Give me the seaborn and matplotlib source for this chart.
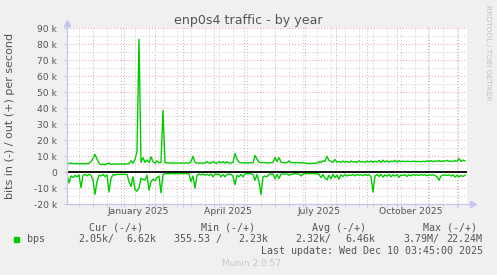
import numpy as np
import pandas as pd
import matplotlib
matplotlib.use("Agg")
import matplotlib.pyplot as plt
import matplotlib.dates as mdates
import seaborn as sns
from matplotlib.patches import Rectangle
from matplotlib.lines import Line2D
from matplotlib.transforms import blended_transform_factory

# ---------------- data ----------------
title = "enp0s4 traffic - by year"
y_label = "bits in (-) / out (+) per second"
series_name = "bps"
period_start = "2024-11-05 03:45"
period_end = "2025-12-10 03:45"

# out (+) traffic, k bits/s, one value per 2 days
out_k = [5.3, 5.3, 5.6, 5.3, 5.2, 5.3, 5.2, 5.2, 5.3, 5.2,
         5.2, 5.4, 6.5, 8.5, 11.0, 8.0, 5.5, 4.6, 4.8, 4.5,
         5.2, 5.6, 4.8, 5.0, 4.9, 5.0, 5.0, 5.0, 5.0, 5.0,
         5.1, 5.2, 7.0, 5.5, 8.0, 12.5, 83.0, 6.0, 9.0, 6.0,
         7.5, 6.0, 9.4, 6.5, 5.5, 7.0, 5.8, 6.0, 38.6, 5.8,
         5.8, 5.6, 5.7, 5.6, 5.6, 5.7, 5.6, 5.6, 5.6, 5.6,
         5.7, 5.6, 6.5, 9.8, 6.0, 5.6, 5.6, 5.6, 5.5, 5.6,
         6.5, 5.6, 5.6, 6.6, 5.6, 5.5, 6.5, 5.7, 6.5, 5.6,
         6.4, 5.6, 5.6, 6.0, 11.5, 8.0, 6.0, 5.8, 5.7, 5.8,
         5.6, 5.7, 5.8, 5.7, 10.4, 8.0, 6.2, 5.8, 6.0, 5.8,
         5.8, 5.7, 5.8, 6.0, 9.0, 6.5, 9.0, 6.2, 5.8, 5.8,
         5.9, 6.9, 5.9, 5.8, 5.8, 5.8, 5.9, 5.7, 5.8, 5.6,
         5.3, 5.4, 5.2, 5.6, 5.3, 5.8, 6.4, 5.9, 7.0, 6.6,
         9.8, 7.2, 6.6, 6.0, 7.8, 6.2, 6.6, 6.0, 6.8, 6.1,
         6.6, 5.9, 6.9, 6.2, 6.5, 6.0, 7.0, 6.3, 6.6, 6.0,
         6.8, 6.2, 6.9, 6.1, 6.7, 6.3, 7.2, 6.0, 7.4, 6.2,
         7.0, 6.1, 6.8, 6.5, 7.3, 6.2, 7.1, 6.4, 6.8, 6.5,
         6.7, 6.6, 6.5, 6.7, 6.6, 6.5, 6.6, 6.4, 6.7, 6.5,
         6.9, 6.6, 7.1, 6.5, 6.9, 6.6, 7.2, 6.5, 7.0, 6.7,
         7.3, 6.6, 6.9, 6.6, 7.1, 6.7, 8.4, 6.6, 7.4, 6.9]

# in (-) traffic, k bits/s, one value per 2 days (drawn below zero)
in_k = [1.8, 6.8, 2.5, 3.5, 2.2, 3.0, 1.8, 9.8, 2.0, 1.5,
        2.4, 1.5, 2.0, 5.0, 14.0, 6.0, 2.0, 2.5, 1.5, 2.8,
        1.8, 12.5, 4.0, 1.6, 2.0, 1.4, 1.6, 1.4, 1.5, 1.4,
        1.6, 6.0, 9.0, 3.0, 11.0, 12.0, 10.0, 4.0, 4.5, 5.0,
        2.0, 11.4, 6.0, 4.5, 5.5, 3.5, 2.5, 13.0, 1.5, 1.2,
        1.0, 1.1, 1.0, 1.0, 1.1, 1.0, 1.0, 1.1, 1.0, 1.0,
        1.0, 1.2, 6.0, 2.5, 10.0, 2.0, 1.3, 1.8, 1.2, 2.0,
        1.4, 2.2, 1.3, 3.0, 1.2, 1.5, 1.3, 3.0, 1.5, 3.0,
        1.5, 1.3, 1.5, 2.5, 7.9, 2.0, 3.0, 1.5, 3.0, 1.2,
        1.1, 1.0, 1.2, 1.5, 5.2, 1.5, 6.0, 14.0, 3.0, 2.5,
        3.0, 1.5, 1.2, 1.3, 4.2, 1.5, 4.0, 1.3, 1.2, 1.2,
        1.3, 2.0, 1.5, 1.2, 1.1, 1.2, 1.3, 2.5, 1.2, 1.0,
        1.0, 1.1, 1.0, 1.0, 1.1, 1.0, 1.5, 3.5, 1.5, 4.0,
        4.8, 2.0, 4.2, 1.5, 3.5, 2.0, 4.5, 1.8, 2.8, 1.5,
        2.5, 1.8, 2.2, 1.5, 2.4, 1.6, 2.0, 1.7, 2.3, 1.5,
        2.2, 1.6, 3.0, 12.5, 2.5, 1.6, 2.8, 1.5, 3.2, 1.8,
        2.6, 1.5, 3.0, 1.7, 2.5, 1.6, 3.3, 1.8, 2.2, 1.6,
        2.8, 1.7, 2.4, 1.6, 2.0, 1.8, 2.2, 1.6, 2.0, 1.7,
        2.3, 1.8, 2.0, 1.7, 2.2, 3.0, 5.2, 2.5, 2.0, 1.8,
        2.2, 1.7, 2.5, 1.8, 3.2, 2.0, 3.0, 2.2, 2.8, 2.0]

y_ticks = [-20, -10, 0, 10, 20, 30, 40, 50, 60, 70, 80, 90]
y_tick_labels = ["-20 k", "-10 k", "0", "10 k", "20 k", "30 k", "40 k",
                 "50 k", "60 k", "70 k", "80 k", "90 k"]
x_label_dates = ["2025-01-15", "2025-04-15", "2025-07-15", "2025-10-15"]
x_labels = ["January 2025", "April 2025", "July 2025", "October 2025"]

legend_headers = ["Cur (-/+)", "Min (-/+)", "Avg (-/+)", "Max (-/+)"]
legend_in = ["2.05k/", "355.53 /", "2.32k/", "3.79M/"]
legend_out = ["6.62k", "2.23k", "6.46k", "22.24M"]
last_update = "Last update: Wed Dec 10 03:45:00 2025"
side_text = "RRDTOOL / TOBI OETIKER"
footer = "Munin 2.0.57"

# ---------------- layout ----------------
W, H = 497, 275
BG = "#F0F0F0"
TXT = "#555555"
GREEN = "#00CC00"
AXC = "#C4C4EC"
MAJ = "#E8A0A0"
MIN = "#C8C8C8"

dates = pd.date_range(period_start, periods=len(out_k), freq="2D")
df = pd.DataFrame({"date": dates,
                   "out": out_k,
                   "in": [-v for v in in_k]})

fig = plt.figure(figsize=(W / 100, H / 100), dpi=100, facecolor=BG)
L, R, T, B = 67, 467, 28, 204
ax = fig.add_axes([L / W, 1 - B / H, (R - L) / W, (B - T) / H])
ax.set_facecolor("white")

x0 = pd.Timestamp(period_start)
x1 = pd.Timestamp(period_end)

ax.axhline(0, color="black", lw=1.3, zorder=2)
sns.lineplot(data=df, x="date", y="out", ax=ax, color=GREEN, lw=1.0, zorder=3)
sns.lineplot(data=df, x="date", y="in", ax=ax, color=GREEN, lw=1.0, zorder=3)

ax.set_xlim(mdates.date2num(x0), mdates.date2num(x1))
ax.set_ylim(-20, 90)

# grid
month_starts = pd.date_range("2024-12-01", "2025-12-01", freq="MS")
biweekly = pd.date_range("2024-11-17", "2025-12-10", freq="14D")
ax.set_xticks(mdates.date2num(month_starts.to_pydatetime()))
ax.set_xticks(mdates.date2num(biweekly.to_pydatetime()), minor=True)
ax.set_xticklabels([])
ax.set_yticks(y_ticks)
ax.set_yticklabels(y_tick_labels)
ax.set_yticks([v + 5 for v in y_ticks[:-1]], minor=True)
ax.set_axisbelow(True)
ax.grid(which="minor", color=MIN, lw=0.7, linestyle=(0, (1, 2)))
ax.grid(which="major", color=MAJ, lw=0.7, linestyle=(0, (1, 2)))

ax.tick_params(axis="y", which="major", length=2, color=AXC, pad=5.3,
               labelsize=6.6, labelcolor=TXT)
ax.tick_params(axis="y", which="minor", length=0)
ax.tick_params(axis="x", which="both", length=2, color=AXC, direction="out")
for lab in ax.get_yticklabels():
    lab.set_fontfamily("DejaVu Sans")

for s in ax.spines.values():
    s.set_visible(False)

# axes with arrows
ax.add_line(Line2D([0, 0], [0, 1.025], transform=ax.transAxes, color=AXC,
                   lw=0.9, clip_on=False, zorder=4))
ax.add_line(Line2D([0, 1.012], [0, 0], transform=ax.transAxes, color=AXC,
                   lw=0.9, clip_on=False, zorder=4))
ax.plot([0], [1.03], marker="^", ms=4.2, color=AXC, transform=ax.transAxes,
        clip_on=False, zorder=4)
ax.plot([1.015], [0], marker=">", ms=4.2, color=AXC, transform=ax.transAxes,
        clip_on=False, zorder=4)

ax.set_xlabel("")
ax.set_ylabel("")

# x labels
trans = blended_transform_factory(ax.transData, fig.transFigure)
for d, lab in zip(x_label_dates, x_labels):
    ax.text(mdates.date2num(pd.Timestamp(d)), 1 - 211.7 / H, lab,
            transform=trans, ha="center", va="center", fontsize=6.7,
            color=TXT, family="DejaVu Sans")


def ftxt(x, y, s, **kw):
    fig.text(x / W, 1 - y / H, s, **kw)


ftxt(248, 24, title, ha="center", va="baseline", fontsize=9.1, color=TXT,
     family="DejaVu Sans")
ftxt(10, 116, y_label, ha="center", va="center", rotation=90, fontsize=8.0,
     color=TXT, family="DejaVu Sans")
ftxt(488, 53, side_text, ha="center", va="center", rotation=270,
     fontsize=5.4, color="#C0C0C0", family="DejaVu Sans")

mono = dict(family="DejaVu Sans Mono", fontsize=7.2, color=TXT, va="center")
for x, s in zip([89.3, 201, 312, 422.7], legend_headers):
    ftxt(x, 227.7, s, ha="left", **mono)
for x, s in zip([78.3, 174, 295, 403.3], legend_in):
    ftxt(x, 239.3, s, ha="left", **mono)
for x, s in zip([156.7, 268.3, 375, 482.7], legend_out):
    ftxt(x, 239.3, s, ha="right", **mono)
ftxt(26.7, 239.3, series_name, ha="left", **mono)
ftxt(482.7, 251, last_update, ha="right", **mono)
fig.add_artist(Rectangle((14 / W, 1 - 242 / H), 5 / W, 5 / H,
                         transform=fig.transFigure, color=GREEN))
ftxt(252, 264, footer, ha="center", va="center", fontsize=6.5,
     color="#C8C8C8", family="DejaVu Sans")

fig.savefig("out.png", dpi=100, facecolor=BG)
